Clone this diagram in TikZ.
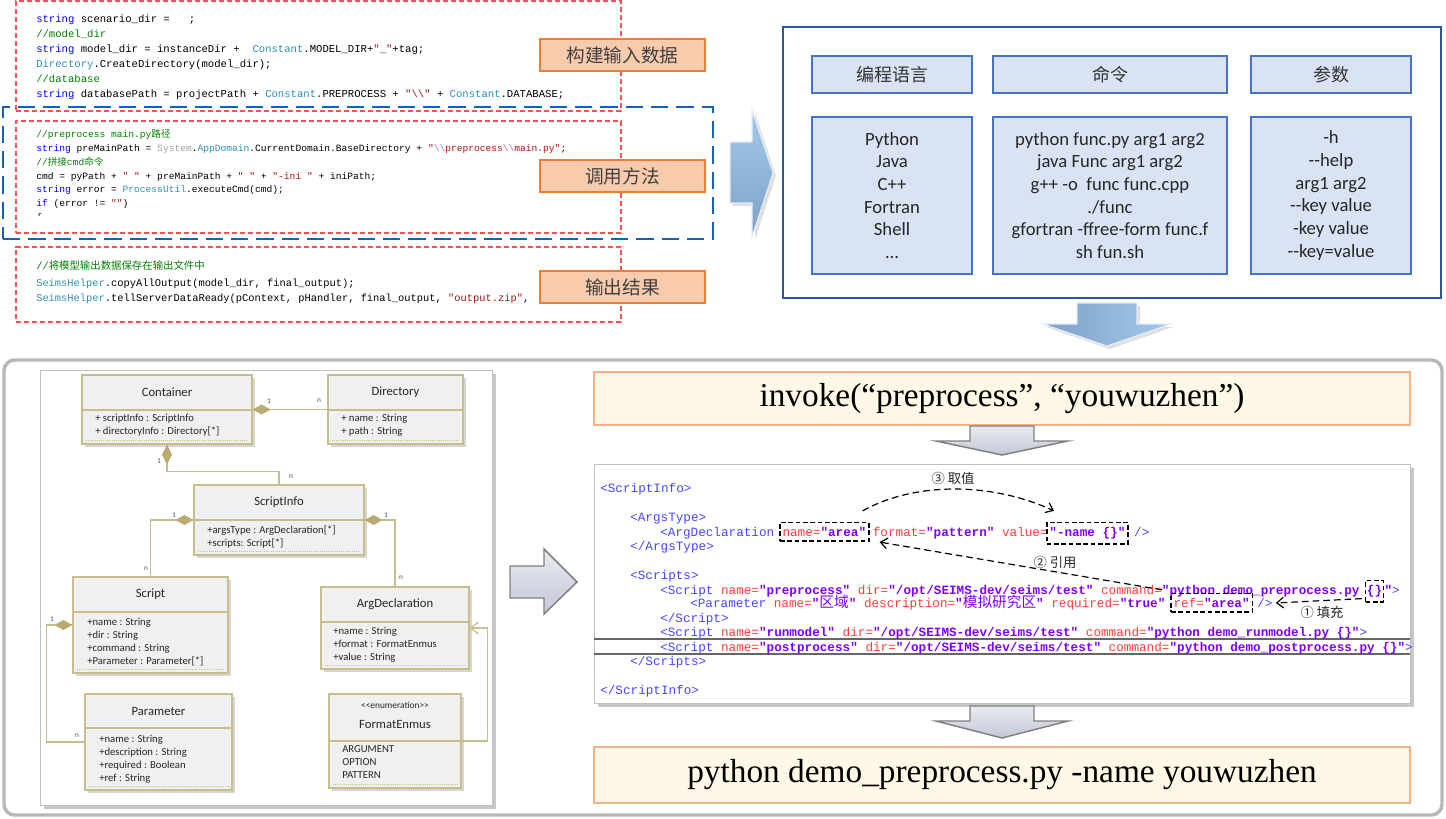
\documentclass[tikz,border=0pt]{standalone}
\usepackage{fontspec}
\setmainfont{Liberation Serif}
\newfontfamily\calib{Carlito}
\newfontfamily\cmono{Liberation Mono}
\newfontfamily\cjk{Noto Sans CJK SC}
\usetikzlibrary{arrows.meta,calc,fit}
\definecolor{redd}{RGB}{255,80,80}
\definecolor{orline}{RGB}{237,125,49}
\definecolor{orfill}{RGB}{248,203,173}
\definecolor{bluedash}{RGB}{21,96,189}
\definecolor{tabline}{RGB}{68,114,196}
\definecolor{tabfill}{RGB}{218,227,243}
\definecolor{outerline}{RGB}{47,85,151}
\definecolor{umlc}{RGB}{200,190,140}
\definecolor{umld}{RGB}{185,172,115}
\definecolor{umlfill}{RGB}{240,240,240}
\definecolor{creamfill}{RGB}{255,248,230}
\definecolor{creamline}{RGB}{244,177,131}
\definecolor{ckw}{RGB}{0,0,255}
\definecolor{ccm}{RGB}{0,128,0}
\definecolor{ccl}{RGB}{43,145,175}
\definecolor{cst}{RGB}{163,21,21}
\definecolor{cgr}{RGB}{160,160,160}
\definecolor{cbs}{RGB}{190,110,200}
\definecolor{xtag}{RGB}{70,70,255}
\definecolor{xattr}{RGB}{255,60,60}
\definecolor{xval}{RGB}{128,0,255}
\definecolor{arrtop}{RGB}{165,200,234}
\definecolor{arrbot}{RGB}{125,162,198}
\definecolor{garrtop}{RGB}{232,234,241}
\definecolor{garrbot}{RGB}{196,200,214}
\newcommand\fs[2]{\fontsize{#1}{#2}\selectfont}
\newcommand\ckwd[1]{\textcolor{ckw}{#1}}
\newcommand\ccmt[1]{\textcolor{ccm}{#1}}
\newcommand\ccls[1]{\textcolor{ccl}{#1}}
\newcommand\cstr[1]{\textcolor{cst}{#1}}
\newcommand\cgry[1]{\textcolor{cgr}{#1}}
\newcommand\cbsl[1]{\textcolor{cbs}{#1}}
\newcommand\xt[1]{\textcolor{xtag}{#1}}
\newcommand\xa[1]{\textcolor{xattr}{#1}}
\newcommand\xv[1]{\textcolor{xval}{\bfseries #1}}
\newcommand\cjkx{\cjk\mdseries\fs{11}{11}}
\newcommand\bsl{\textbackslash}
\tikzset{
  redbox/.style={draw=redd, dash pattern=on 4pt off 2pt, line width=0.8pt, inner sep=0pt},
  bluebox/.style={draw=bluedash, dash pattern=on 13pt off 6pt, line width=2.2pt, inner sep=0pt},
  orbox/.style={draw=orline, fill=orfill, line width=1.2pt, inner sep=0pt},
  otext/.style={inner sep=0pt, font=\cjk\fs{14}{16}, text=black!75},
  code/.style={anchor=base west, inner sep=0pt},
  hdr/.style={draw=tabline, fill=tabfill, line width=0.9pt, inner sep=0pt},
  htext/.style={inner sep=0pt, font=\cjk\fs{13.5}{16}, text=black!80},
  cbox/.style={draw=tabline, fill=tabfill, line width=0.9pt, inner sep=0pt},
  ctext/.style={inner sep=0pt, align=center, font=\calib\fs{14}{17}, text=black!85},
  umlbox/.style={draw=umlc, fill=umlfill, line width=0.9pt, inner sep=0pt},
  umltitle/.style={inner sep=0pt, font=\calib\fs{9.5}{11}, text=black!85},
  umlattr/.style={anchor=base west, inner sep=0pt, font=\calib\fs{8}{9}, text=black!85},
  multl/.style={inner sep=0.4pt, fill=white, font=\calib\fs{5.5}{6}, text=black!70},
  conn/.style={draw=umlc, line width=0.9pt},
  xml/.style={anchor=base west, inner sep=0pt, font=\cmono\fs{9.5}{11}},
  dbox/.style={anchor=base west, draw=black, dash pattern=on 3.5pt off 2pt, line width=1.2pt, inner xsep=2pt, inner ysep=3.5pt, font=\cmono\fs{9.5}{11}},
  darr/.style={draw=black, dash pattern=on 5pt off 3pt, line width=0.9pt, -{Straight Barb[length=5pt,width=8pt]}},
  anno/.style={inner sep=0pt, font=\cjk\fs{10}{12}, text=black!85},
  garr/.style={top color=garrtop, bottom color=garrbot, draw=black!50, line width=1.1pt},
  cream/.style={draw=creamline, fill=creamfill, line width=1.3pt, inner sep=0pt},
  creamtext/.style={inner sep=0pt, font=\fs{25}{28}},
}
\newcommand\umlclass[7]{%
  \fill[black!16] ({#2+3},{#3+3}) rectangle ({#4+3},{#5+3});
  \node[umlbox, fit={(#2,#3) (#4,#5)}] (#1) {};
  \draw[umlc, line width=0.9pt] (#2,#6) -- (#4,#6);
  \draw[umlc, densely dotted, line width=0.6pt] ({#2+4},{#5-4}) -- ({#4-4},{#5-4});
  \node[umltitle] (#1-t) at ({(#2+#4)/2},{(#3+#6)/2}) {#7};}
\newcommand\attrs[4]{\foreach \t [count=\i from 0] in {#4}{\node[umlattr] (#1-a\i) at (#2,{#3+3+13*\i}) {\t};}}
\newcommand\diaR[1]{\fill[umld] (#1) -- ++(9,-5) -- ++(9,5) -- ++(-9,5) -- cycle;}
\newcommand\diaL[1]{\fill[umld] (#1) -- ++(-9,-5) -- ++(-9,5) -- ++(9,5) -- cycle;}
\newcommand\diaD[1]{\fill[umld] (#1) -- ++(-5,10) -- ++(5,10) -- ++(5,-10) -- cycle;}
\begin{document}
\begin{tikzpicture}[x=0.75pt,y=-0.75pt]
\useasboundingbox (0,0) rectangle (1446,818);
\fill[white] (0,0) rectangle (1446,818);

% ---------------- top-left code ----------------
\node[redbox, fit={(16,1) (621,111)}] (rb1) {};
\node[redbox, fit={(16,121) (621,233)}] (rb2) {};
\node[redbox, fit={(16,247) (621,322)}] (rb3) {};
\node[bluebox, fit={(3,107) (713,239)}] (bb) {};

\begin{scope}[every node/.style={code, font=\cmono\fs{7.95}{10}}]
\node (a1) at (36,22) {\ckwd{string} scenario\_dir =\ \ \ ;};
\node (a2) at (36,37) {\ccmt{//model\_dir}};
\node (a3) at (36,52) {\ckwd{string} model\_dir = instanceDir +\ \ \ccls{Constant}.MODEL\_DIR+\cstr{"\_"}+tag;};
\node (a4) at (36,67) {\ccls{Directory}.CreateDirectory(model\_dir);};
\node (a5) at (36,82) {\ccmt{//database}};
\node (a6) at (36,97) {\ckwd{string} databasePath = projectPath + \ccls{Constant}.PREPROCESS + \cstr{"\bsl\bsl"} + \ccls{Constant}.DATABASE;};
\end{scope}

\begin{scope}[every node/.style={code, font=\cmono\fs{7.2}{9}}]
\node (b1) at (36,137.5) {\ccmt{//preprocess main.py{\cjk 路径}}};
\node (b2) at (36,151.5) {\ckwd{string} preMainPath = \cgry{System}.\ccls{AppDomain}.CurrentDomain.BaseDirectory + \cstr{"}\cbsl{\bsl\bsl}\cstr{preprocess}\cbsl{\bsl\bsl}\cstr{main.py"};};
\node (b3) at (36,165.5) {\ccmt{//{\cjk 拼接}cmd{\cjk 命令}}};
\node (b4) at (36,179.5) {cmd = pyPath + \cstr{" "} + preMainPath + \cstr{" "} + \cstr{"-ini "} + iniPath;};
\node (b5) at (36,192.5) {\ckwd{string} error = \ccls{ProcessUtil}.executeCmd(cmd);};
\node (b6) at (36,206.5) {\ckwd{if} (error != \cstr{""})};
\end{scope}
\begin{scope}
\clip (30,205) rectangle (60,215);
\node[code, font=\cmono\fs{7.2}{9}] (b7) at (36,220) {\{};
\end{scope}

\begin{scope}[every node/.style={code, font=\cmono\fs{7.8}{9}}]
\node (d1) at (36,269) {\ccmt{//{\cjk 将模型输出数据保存在输出文件中}}};
\node (d2) at (36,286) {\ccls{SeimsHelper}.copyAllOutput(model\_dir, final\_output);};
\node (d3) at (36,301) {\ccls{SeimsHelper}.tellServerDataReady(pContext, pHandler, final\_output, \cstr{"output.zip"},};
\end{scope}

\node[orbox, fit={(540,39) (705,71)}] (o1) {};
\node[otext] (o1-t) at (o1.center) {构建输入数据};
\node[orbox, fit={(540,160) (705,192)}] (o2) {};
\node[otext] (o2-t) at (o2.center) {调用方法};
\node[orbox, fit={(540,271) (705,303)}] (o3) {};
\node[otext] (o3-t) at (o3.center) {输出结果};

% blue right arrow
\fill[black!12] (733,145) -- (755,145) -- (755,113) -- (776,176) -- (755,240) -- (755,206) -- (733,206) -- cycle;
\shade[top color=arrtop, bottom color=arrbot] (730,142) -- (752,142) -- (752,110) -- (773,173) -- (752,237) -- (752,203) -- (730,203) -- cycle;
\draw[white!70!arrtop, line width=0.8pt] (730,142) -- (752,142) -- (752,110) -- (773,173) -- (752,237) -- (752,203) -- (730,203) -- cycle;

% ---------------- top-right table ----------------
\node[draw=outerline, line width=0.9pt, inner sep=0pt, fit={(783,27) (1441,298)}] (outer) {};
\node[hdr, fit={(812,56) (972,93)}] (h1) {};
\node[htext] (h1-t) at (h1.center) {编程语言};
\node[hdr, fit={(993,56) (1227,93)}] (h2) {};
\node[htext] (h2-t) at (h2.center) {命令};
\node[hdr, fit={(1251,56) (1411,93)}] (h3) {};
\node[htext] (h3-t) at (h3.center) {参数};
\node[cbox, fit={(812,117) (972,274)}] (t1) {};
\node[ctext] (t1-t) at (t1.center) {Python\\Java\\C++\\Fortran\\Shell\\…};
\node[cbox, fit={(993,117) (1227,274)}] (t2) {};
\node[ctext] (t2-t) at (t2.center) {python func.py arg1 arg2\\java Func arg1 arg2\\g++ -o\ \ func func.cpp\\./func\\gfortran -ffree-form func.f\\sh fun.sh};
\node[cbox, fit={(1251,117) (1411,274)}] (t3) {};
\node[ctext] (t3-t) at (t3.center) {-h\\-{}-help\\arg1 arg2\\-{}-key value\\-key value\\-{}-key=value};

% blue down arrow
\fill[black!12] (1080,306) -- (1140,306) -- (1140,327) -- (1173,327) -- (1110,349) -- (1046,327) -- (1080,327) -- cycle;
\shade[left color=arrbot, right color=arrtop] (1077,303) -- (1137,303) -- (1137,324) -- (1171,324) -- (1107,346) -- (1043,324) -- (1077,324) -- cycle;
\draw[white!70!arrtop, line width=0.8pt] (1077,303) -- (1137,303) -- (1137,324) -- (1171,324) -- (1107,346) -- (1043,324) -- (1077,324) -- cycle;

% ---------------- bottom frame ----------------
\node[draw=black!28, line width=2.6pt, rounded corners=8pt, inner sep=0pt, fit={(4,360) (1442,815)}] (frame) {};

% UML panel
\fill[black!22] (44,374) rectangle (496,809);
\node[fill=white, draw=black!25, line width=0.6pt, inner sep=0pt, fit={(40,370) (492,805)}] (umlpanel) {};

\umlclass{container}{82}{375}{252}{444}{410}{Container}
\attrs{container}{95}{418}{+ scriptInfo : ScriptInfo, + directoryInfo : Directory[*]}
\umlclass{directory}{328}{375}{463}{444}{410}{Directory}
\attrs{directory}{341}{418}{+ name : String, + path : String}
\umlclass{scriptinfo}{194}{485}{364}{555}{520}{ScriptInfo}
\attrs{scriptinfo}{207}{530}{+argsType : ArgDeclaration[*], +scripts: Script[*]}
\umlclass{script}{73}{577}{228}{673}{612}{Script}
\attrs{script}{87}{622}{+name : String, +dir : String, +command : String, +Parameter : Parameter[*]}
\umlclass{argdecl}{321}{587}{469}{669}{622}{ArgDeclaration}
\attrs{argdecl}{333}{631}{+name : String, +format : FormatEnmus, +value : String}
\umlclass{parameter}{85}{694}{232}{790}{728}{Parameter}
\attrs{parameter}{99}{739}{+name : String, +description : String, +required : Boolean, +ref : String}
\umlclass{fmt}{329}{694}{461}{788}{741}{}
\node[umltitle, font=\calib\fs{7}{8}] (fmt-st) at (395,705) {<{}<enumeration>{}>};
\node[umltitle] (fmt-name) at (395,724) {FormatEnmus};
\attrs{fmt}{342}{749}{ARGUMENT, OPTION, PATTERN}

\draw[conn] (container.east) -- (directory.west);
\diaR{container.east}
\draw[conn] (container.south) -- ++(0,27) -| (scriptinfo.north);
\diaD{container.south}
\draw[conn] (scriptinfo.west) -| (script.north);
\diaL{scriptinfo.west}
\draw[conn] (scriptinfo.east) -| (argdecl.north);
\diaR{scriptinfo.east}
\draw[conn] (script.west) -- ++(-26,0) |- (parameter.west);
\diaL{script.west}
\draw[conn, -{Straight Barb[length=6pt,width=9pt]}] (fmt.east) -- ++(26,0) |- (argdecl.east);

\node[multl] (m1) at (269,401) {1};
\node[multl] (m2) at (319,401) {n};
\node[multl] (m3) at (159,461) {1};
\node[multl] (m4) at (291,477) {n};
\node[multl] (m5) at (174,515) {1};
\node[multl] (m6) at (386,515) {1};
\node[multl] (m7) at (146,569) {n};
\node[multl] (m8) at (401,578) {n};
\node[multl] (m9) at (52,619) {1};
\node[multl] (m10) at (77,736) {n};

% gray right arrow
\path[garr] (510,566) -- (544,566) -- (544,549) -- (577,582) -- (544,614) -- (544,598) -- (510,598) -- cycle;

% invoke box
\node[cream, fit={(594,372) (1410,425)}] (invoke) {};
\node[creamtext] (invoke-t) at (invoke.center) {invoke(“preprocess”, “youwuzhen”)};
% gray down arrow 1
\path[garr] (970,426) -- (1034,426) -- (1034,441) -- (1068,441) -- (1002,455) -- (936,441) -- (970,441) -- cycle;

% XML panel
\fill[black!22] (598,468) rectangle (1414,707);
\node[fill=white, draw=black!25, line width=0.6pt, inner sep=0pt, fit={(594,464) (1410,703)}] (xmlpanel) {};
\draw[black!60, line width=0.8pt] (594,639) -- (1410,639);
\draw[black!60, line width=0.8pt] (594,654) -- (1410,654);

\node[xml] (x1) at (600,492.5) {\xt{<ScriptInfo>}};
\node[xml] (x2) at (630,521.5) {\xt{<ArgsType>}};
\node[xml] (x3a) at (660,536.5) {\xt{<ArgDeclaration}};
\node[dbox] (argname) at ($(x3a.base east)+(4.5,0)$) {\xa{name=}\xv{"area"}};
\node[xml] (x3b) at ($(argname.base east)+(3,0)$) {\xa{format=}\xv{"pattern"} \xa{value=}};
\node[dbox] (argval) at ($(x3b.base east)+(-2,0)$) {\xv{"-name \{\}"}};
\node[xml] (x3c) at ($(argval.base east)+(5,0)$) {\xt{/>}};
\node[xml] (x4) at (630,550.5) {\xt{</ArgsType>}};
\node[xml] (x5) at (630,579.5) {\xt{<Scripts>}};
\node[xml] (x6a) at (660,594.5) {\xt{<Script} \xa{name=}\xv{"preprocess"} \xa{dir=}\xv{"/opt/SEIMS-dev/seims/test"} \xa{command=}\xv{"python demo\_preprocess.py}};
\node[dbox, inner xsep=1pt] (brace) at ($(x6a.base east)+(5,0)$) {\xv{\{\}}};
\node[xml] (x6b) at (brace.base east) {\xv{"}\xt{>}};
\node[xml] (x7a) at (690,607.5) {\xt{<Parameter} \xa{name=}\xv{"{\cjkx 区域}"} \xa{description=}\xv{"{\cjkx 模拟研究区}"} \xa{required=}\xv{"true"}};
\node[dbox] (refbox) at ($(x7a.base east)+(4.5,0)$) {\xa{ref=}\xv{"area"}};
\node[xml] (refend) at ($(refbox.base east)+(4,0)$) {\xt{/>}};
\node[xml] (x8) at (660,622.5) {\xt{</Script>}};
\node[xml] (x9) at (660,636.5) {\xt{<Script} \xa{name=}\xv{"runmodel"} \xa{dir=}\xv{"/opt/SEIMS-dev/seims/test"} \xa{command=}\xv{"python demo\_runmodel.py \{\}"}\xt{>}};
\node[xml] (x10) at (660,651.5) {\xt{<Script} \xa{name=}\xv{"postprocess"} \xa{dir=}\xv{"/opt/SEIMS-dev/seims/test"} \xa{command=}\xv{"python demo\_postprocess.py \{\}"}\xt{>}};
\node[xml] (x11) at (630,665.5) {\xt{</Scripts>}};
\node[xml] (x12) at (600,694.5) {\xt{</ScriptInfo>}};

\draw[darr] ($(argname.north east)+(-7,-11)$) .. controls ($(argname.north east)+(45,-40)$) and ($(argval.north west)+(-55,-40)$) .. ($(argval.north west)+(8,-11)$);
\draw[darr] ($(refbox.north west)+(-8,-3)$) -- ($(argname.south east)+(10,0)$);
\draw[darr] ($(brace.south west)+(-3,-4)$) -- ($(refend.east)+(3,0)$);
\node[anno] (n3) at (953,478) {③ 取值};
\node[anno] (n2) at (1055,562) {② 引用};
\node[anno] (n1) at (1322,612) {① 填充};

% gray down arrow 2
\path[garr] (970,706) -- (1034,706) -- (1034,721) -- (1068,721) -- (1002,738) -- (936,721) -- (970,721) -- cycle;

% final box
\node[cream, fit={(594,747) (1410,803)}] (final) {};
\node[creamtext] (final-t) at (final.center) {python demo\_preprocess.py -name youwuzhen};
\end{tikzpicture}
\end{document}
